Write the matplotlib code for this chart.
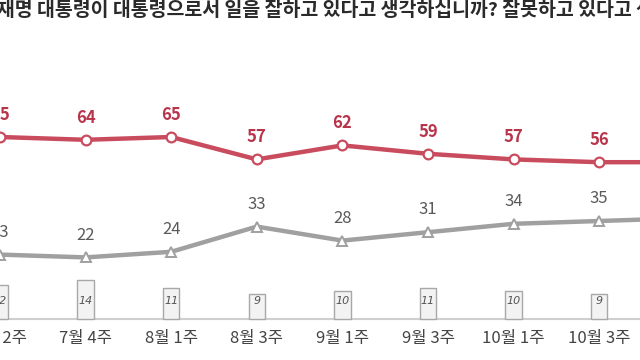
import matplotlib
matplotlib.use("Agg")
import matplotlib.pyplot as plt

plt.rcParams['font.family'] = ['Noto Sans CJK KR', 'DejaVu Sans']

weeks = ["7월 2주", "7월 4주", "8월 1주", "8월 3주", "9월 1주", "9월 3주", "10월 1주", "10월 3주", "10월 5주"]
approve = [65, 64, 65, 57, 62, 59, 57, 56, 56]
disapprove = [23, 22, 24, 33, 28, 31, 34, 35, 36]
no_opinion = [12, 14, 11, 9, 10, 11, 10, 9, None]
title = "이재명 대통령이 대통령으로서 일을 잘하고 있다고 생각하십니까? 잘못하고 있다고 생각하십니까?"

RED = "#c94c5e"
RED_TXT = "#b8344a"
GRAY = "#a0a0a0"
GRAY_TXT = "#5a5a5a"

fig = plt.figure(figsize=(6.4, 3.6), dpi=100)
ax = fig.add_axes([0, 0, 1, 1])
ax.set_xlim(0, 640 / 85.6)
ax.set_ylim(-41 / 2.8, 319 / 2.8)
ax.axis('off')

x = list(range(len(weeks)))

# baseline
ax.axhline(0, color="#cfcfcf", lw=1.5, zorder=1)

# no-opinion bars
for xi, v in zip(x, no_opinion):
    if v is None:
        continue
    ax.bar(xi, v, width=0.19, bottom=0, color="#f3f3f3", edgecolor="#a8a8a8", lw=1.0, zorder=2, clip_on=False)
    ax.text(xi, 6.5, str(v), ha='center', va='center', fontsize=8, style='italic',
            color="#555555", family=['DejaVu Sans'], zorder=3)

# lines
ax.plot(x, approve, color=RED, lw=3.2, marker='o', ms=7, mfc='white', mec=RED, mew=1.6,
        zorder=4, clip_on=False, solid_capstyle='round')
ax.plot(x, disapprove, color=GRAY, lw=3.2, marker='^', ms=6.5, mfc='white', mec=GRAY, mew=1.4,
        zorder=4, clip_on=False, solid_capstyle='round')

for xi, v in zip(x, approve):
    ax.annotate(str(v), (xi, v), xytext=(0, 16), textcoords='offset points', ha='center', va='center',
                fontsize=12, fontweight='bold', color=RED_TXT, annotation_clip=False)
for xi, v in zip(x, disapprove):
    ax.annotate(str(v), (xi, v), xytext=(0, 16), textcoords='offset points', ha='center', va='center',
                fontsize=12, fontweight='medium', color=GRAY_TXT, annotation_clip=False)

# x labels
for xi, w in zip(x, weeks):
    ax.text(xi, -19 / 2.8, w, ha='center', va='center', fontsize=12, color="#444444")

fig.text(-21 / 640, 1 - 11 / 360, title, ha='left', va='center', fontsize=14, fontweight='bold',
         color="#2a2a2a")

fig.savefig("out.png", dpi=100)
